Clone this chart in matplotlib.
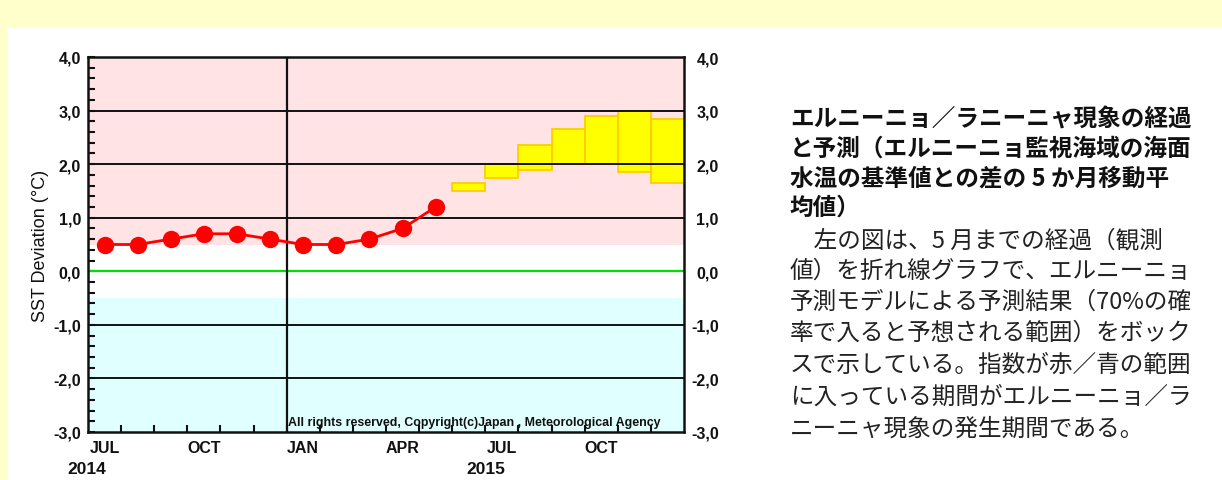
import numpy as np
import matplotlib
matplotlib.use("Agg")
import matplotlib.pyplot as plt
from matplotlib.patches import Rectangle
from matplotlib.ticker import FixedLocator, FuncFormatter
from matplotlib.font_manager import FontProperties

# ---------------- data ----------------
months = ['JUL', 'AUG', 'SEP', 'OCT', 'NOV', 'DEC',
          'JAN', 'FEB', 'MAR', 'APR', 'MAY', 'JUN',
          'JUL', 'AUG', 'SEP', 'OCT', 'NOV', 'DEC']
label_months = ['JUL', 'OCT', 'JAN', 'APR', 'JUL', 'OCT']
label_idx = [0, 3, 6, 9, 12, 15]
years = ['2014', '2015']
year_pos = [-0.55, 11.5]

obs_values = [0.5, 0.5, 0.6, 0.7, 0.7, 0.6, 0.5, 0.5, 0.6, 0.8, 1.2]
fc_low = [1.5, 1.75, 1.9, 2.0, 2.0, 1.85, 1.65]
fc_high = [1.65, 2.0, 2.35, 2.65, 2.9, 3.0, 2.85]

yticks = [-3, -2, -1, 0, 1, 2, 3, 4]

title_lines = [
    "エルニーニョ／ラニーニャ現象の経過",
    "と予測（エルニーニョ監視海域の海面",
    "水温の基準値との差の 5 か月移動平",
    "均値）",
]
body_lines = [
    "　左の図は、5 月までの経過（観測",
    "値）を折れ線グラフで、エルニーニョ",
    "予測モデルによる予測結果（70%の確",
    "率で入ると予想される範囲）をボック",
    "スで示している。指数が赤／青の範囲",
    "に入っている期間がエルニーニョ／ラ",
    "ニーニャ現象の発生期間である。",
]

# ---------------- figure ----------------
W, H = 1222, 481
fig = plt.figure(figsize=(W / 100, H / 100), dpi=100, facecolor='#FFFFCC')
fig.patches.append(Rectangle((7 / W, 0), 1 - 7 / W, (H - 28) / H,
                             transform=fig.transFigure, facecolor='white',
                             edgecolor='none', zorder=0))

L, R, T, B = 88, 684, 58, 433
ax = fig.add_axes([L / W, (H - B) / H, (R - L) / W, (B - T) / H])
ax.set_zorder(2)
ax.set_xlim(-0.5, len(months) - 0.5)
ax.set_ylim(-3, 4)

# background bands
ax.axhspan(0.5, 4, color='#FFE3E5', zorder=0, lw=0)
ax.axhspan(-3, -0.5, color='#E0FFFF', zorder=0, lw=0)

# forecast boxes
n_obs = len(obs_values)
fx = np.arange(n_obs, n_obs + len(fc_low))
ax.bar(fx, np.array(fc_high) - np.array(fc_low), bottom=fc_low, width=1.0,
       color='#FFFF00', edgecolor='#FFCC00', linewidth=1.3, zorder=2)

# grid lines
for v in [-2, -1, 1, 2, 3]:
    ax.axhline(v, color='#111111', lw=1.4, zorder=3)
ax.axhline(0, color='#00E000', lw=1.6, zorder=3)
ax.axvline(5.5, color='#111111', lw=1.6, zorder=3)

# observations
ox = np.arange(n_obs)
ax.plot(ox, obs_values, color='#FF0000', lw=2, marker='o', markersize=12.5,
        markeredgewidth=0, zorder=4)

# spines
for s in ax.spines.values():
    s.set_linewidth(1.8)
    s.set_color('#111111')
    s.set_zorder(5)

tick_font = dict(family='Liberation Sans', weight='bold', size=11.5)
fmt = FuncFormatter(lambda v, p: f"{v:.1f}".replace('.', ','))

ax.yaxis.set_major_locator(FixedLocator(yticks))
ax.yaxis.set_minor_locator(FixedLocator(np.arange(-3, 4.01, 0.2)))
ax.yaxis.set_major_formatter(fmt)
ax.tick_params(axis='y', which='both', direction='in', length=5, width=1.5,
               left=True, right=True, pad=5, colors='#111111')
for lb in ax.get_yticklabels():
    lb.set_fontproperties(FontProperties(**tick_font))

# right labels via twin axis
ax2 = ax.twinx()
ax2.set_ylim(-3, 4)
ax2.yaxis.set_major_locator(FixedLocator(yticks))
ax2.yaxis.set_major_formatter(fmt)
ax2.tick_params(axis='y', length=0, pad=25, colors='#111111')
for lb in ax2.get_yticklabels():
    lb.set_fontproperties(FontProperties(**tick_font))
    lb.set_horizontalalignment('right')
for s in ax2.spines.values():
    s.set_visible(False)

# x ticks
ax.xaxis.set_major_locator(FixedLocator(label_idx))
ax.set_xticklabels(label_months, fontfamily='Liberation Sans',
                   fontweight='bold', fontsize=11.5)
ax.xaxis.set_minor_locator(FixedLocator(np.arange(0.5, len(months) - 1, 1.0)))
ax.tick_params(axis='x', which='major', length=0, pad=6, colors='#111111')
ax.tick_params(axis='x', which='minor', direction='in', length=5, width=1.5,
               colors='#111111')

for yr, xp in zip(years, year_pos):
    ax.text(xp, -0.098, yr, transform=ax.get_xaxis_transform(), ha='center',
            va='center', fontfamily='Liberation Sans', fontweight='bold',
            fontsize=12.5, color='#111111')

ax.set_ylabel('SST Deviation (°C)', fontfamily='Liberation Sans',
              fontsize=13, color='#111111', labelpad=3)

ax.text(11.17, -2.82, 'All rights reserved, Copyright(c)Japan , Meteorological Agency',
        ha='center', va='center', fontfamily='Liberation Sans',
        fontweight='bold', fontsize=8.9, color='#111111', zorder=3)

# ---------------- right text ----------------
cjk = ['Noto Sans CJK JP', 'DejaVu Sans']
title_y = [120, 149, 179, 208]
body_y = [241, 271, 302, 333, 365, 397, 429]
for t, y in zip(title_lines, title_y):
    fig.text(790 / W, 1 - y / H, t, ha='left', va='center', family=cjk,
             weight='bold', fontsize=17, color='#111111')
for t, y in zip(body_lines, body_y):
    fig.text(790 / W, 1 - y / H, t, ha='left', va='center', family=cjk,
             fontsize=17, color='#222222')

fig.savefig('out.png', dpi=100, facecolor=fig.get_facecolor())
